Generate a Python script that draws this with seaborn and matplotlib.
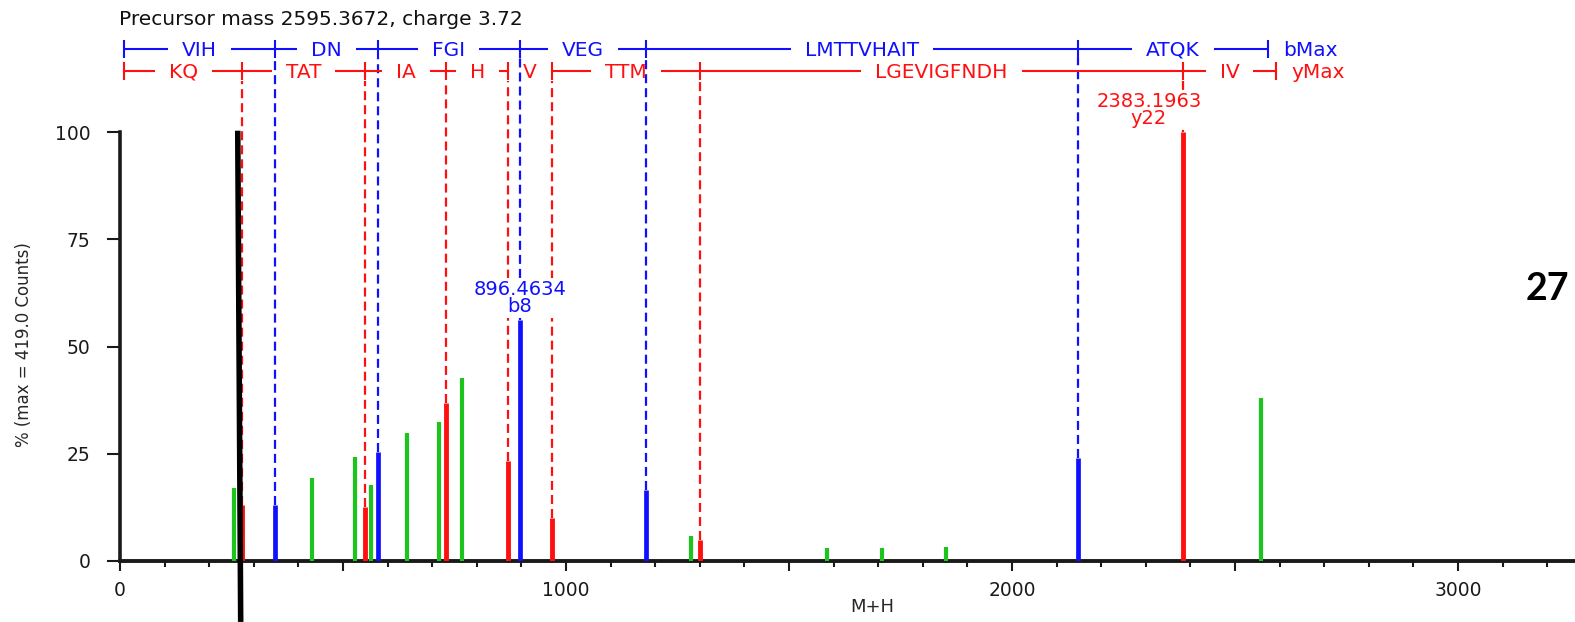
import numpy as np
import pandas as pd
import matplotlib
matplotlib.use("Agg")
import matplotlib.pyplot as plt
import seaborn as sns
from matplotlib.ticker import FixedLocator, MultipleLocator, FuncFormatter

# ---------------- data ----------------
title_text = "Precursor mass 2595.3672, charge 3.72"

other_mz = [255, 431, 528, 563, 643, 715, 766, 1280, 1586, 1709, 1852, 2559]
other_int = [17.0, 19.4, 24.2, 17.7, 29.9, 32.5, 42.6, 5.9, 3.0, 3.0, 3.3, 38.0]

b_mz = [348, 578, 896.4634, 1180, 2148]
b_int = [13.0, 25.5, 56.2, 16.5, 23.9]

y_mz = [274, 549, 732, 870, 968, 1301, 2383.1963]
y_int = [13.0, 12.7, 36.9, 23.4, 10.1, 5.0, 100.0]

b_row_start, b_row_end = 10, 2574
y_row_start, y_row_end = 10, 2592
b_labels = ["VIH", "DN", "FGI", "VEG", "LMTTVHAIT", "ATQK"]
y_labels = ["KQ", "TAT", "IA", "H", "V", "TTM", "LGEVIGFNDH", "IV"]

label_mz = [896.4634, 2383.1963]
label_int = [56.2, 100.0]
label_text = ["896.4634\nb8", "2383.1963\ny22"]
label_ion = ["b", "y"]

marker_x = [264, 270.6]
marker_y = [100.3, -14.2]

x_tick_labels = ["0", "1000", "2000", "3000"]
y_ticks = [0, 25, 50, 75, 100]
ylabel_text = "% (max = 419.0 Counts)"
xlabel_text = "M+H"
side_text = "27"

# ---------------- style ----------------
sns.set_style("ticks")
plt.rcParams["font.family"] = ["DejaVu Sans"]
plt.rcParams["lines.scale_dashes"] = False
plt.rcParams["lines.solid_capstyle"] = "butt"

BLUE = "#1010ff"
RED = "#ff1010"
GREEN = "#1ec41e"

W, H = 1575, 622
PXX = 0.446   # pixels per m/z unit
PXY = 4.29    # pixels per % unit

fig = plt.figure(figsize=(W / 100, H / 100), dpi=100)
ax = fig.add_axes([120 / W, (H - 561) / H, 1 - 120 / W, 561 / H])


def stems(mz, inten, color, lw):
    df = pd.DataFrame({
        "mz": np.repeat(mz, 2),
        "intensity": np.column_stack([np.zeros(len(inten)), inten]).ravel(),
        "peak": np.repeat(np.arange(len(mz)), 2),
    })
    sns.lineplot(data=df, x="mz", y="intensity", units="peak", estimator=None,
                 sort=False, color=color, linewidth=lw, ax=ax, zorder=3,
                 legend=False)


stems(other_mz, other_int, GREEN, 3.0)
stems(y_mz, y_int, RED, 3.5)
stems(b_mz, b_int, BLUE, 3.4)

ax.set_xlim(0, (W - 120) / PXX)
ax.set_ylim(0, 561 / PXY)

# dashed guide lines from fragment rows down to the matched peaks
dash = (0, (6.5, 3.6))
b_row_y = (561 - 49) / PXY
y_row_y = (561 - 71) / PXY
ax.vlines(b_mz, b_int, (561 - 58) / PXY, colors=BLUE, linestyles=dash,
          lw=1.6, zorder=2, clip_on=False)
ax.vlines(y_mz, y_int, (561 - 81) / PXY, colors=RED, linestyles=dash,
          lw=1.6, zorder=2, clip_on=False)

# peak labels
for mz, h, txt, ion in zip(label_mz, label_int, label_text, label_ion):
    dx = 0 if ion == "b" else -34
    ax.annotate(txt, xy=(mz, h), xytext=(dx * 0.72, 4 * 0.72),
                textcoords="offset points", ha="center", va="bottom",
                color=BLUE if ion == "b" else RED, fontsize=14,
                linespacing=0.85, zorder=4,
                bbox=dict(boxstyle="square,pad=0.12", fc="white", ec="none"))

# fragment rows
renderer = fig.canvas.get_renderer()


def draw_row(bounds, labels, yrow, color, end_text):
    base = yrow - 6.5 / PXY
    tick_h = 9 / PXY
    ax.vlines(bounds, yrow - tick_h, yrow + tick_h, colors=color, lw=1.5,
              zorder=3, clip_on=False)
    gap = 14 / PXX
    for b0, b1, lab in zip(bounds[:-1], bounds[1:], labels):
        c = (b0 + b1) / 2
        t = ax.text(c, base, lab, ha="center", va="baseline", color=color,
                    fontsize=14.5, zorder=3, clip_on=False)
        ext = t.get_window_extent(renderer=renderer)
        hw = ext.width / 2 / PXX
        left_end = c - hw - gap
        right_start = c + hw + gap
        if left_end > b0:
            ax.plot([b0, left_end], [yrow, yrow], color=color, lw=1.5,
                    zorder=3, clip_on=False)
        if right_start < b1:
            ax.plot([right_start, b1], [yrow, yrow], color=color, lw=1.5,
                    zorder=3, clip_on=False)
    ax.text(bounds[-1] + 15 / PXX, base, end_text, ha="left", va="baseline",
            color=color, fontsize=14.5, clip_on=False)


draw_row([b_row_start] + b_mz + [b_row_end], b_labels, b_row_y, BLUE, "bMax")
draw_row([y_row_start] + y_mz + [y_row_end], y_labels, y_row_y, RED, "yMax")

# black marker line
ax.plot(marker_x, marker_y, color="black", lw=4.0, zorder=6, clip_on=False)

# axes styling
for s in ["top", "right"]:
    ax.spines[s].set_visible(False)
ax.spines["left"].set_bounds(0, 100)
ax.spines["left"].set_linewidth(2.6)
ax.spines["bottom"].set_linewidth(2.8)
ax.spines["left"].set_color("#1a1a1a")
ax.spines["bottom"].set_color("#1a1a1a")

ax.set_yticks(y_ticks)
ax.set_yticklabels([str(v) for v in y_ticks])
ax.xaxis.set_major_locator(FixedLocator(np.arange(0, 3001, 500)))
ax.xaxis.set_major_formatter(
    FuncFormatter(lambda v, p: str(int(v)) if str(int(v)) in x_tick_labels else ""))
ax.xaxis.set_minor_locator(MultipleLocator(100))

ax.tick_params(axis="y", direction="out", length=9.4, width=1.5, pad=12,
               labelsize=13.5, color="#1a1a1a", labelcolor="#1a1a1a")
ax.tick_params(axis="x", which="major", direction="out", length=7.2, width=1.5,
               pad=7, labelsize=13.5, color="#1a1a1a", labelcolor="#1a1a1a")
ax.tick_params(axis="x", which="minor", direction="out", length=4.5, width=1.5,
               color="#1a1a1a")

ax.set_xlabel(xlabel_text, fontsize=13)
ax.set_ylabel(ylabel_text, fontsize=12)
ax.xaxis.set_label_coords(0.517, -0.066)
ax.yaxis.set_label_coords(-0.060, 0.386)

fig.text(119 / W, 1 - 25 / H, title_text, ha="left", va="baseline",
         fontsize=14.5, color="#111111")
fig.text(1526 / W, 1 - 289 / H, side_text, ha="left", va="center",
         fontsize=27, fontweight="bold", family="Lato", color="black")

fig.savefig("out.png", dpi=100)
